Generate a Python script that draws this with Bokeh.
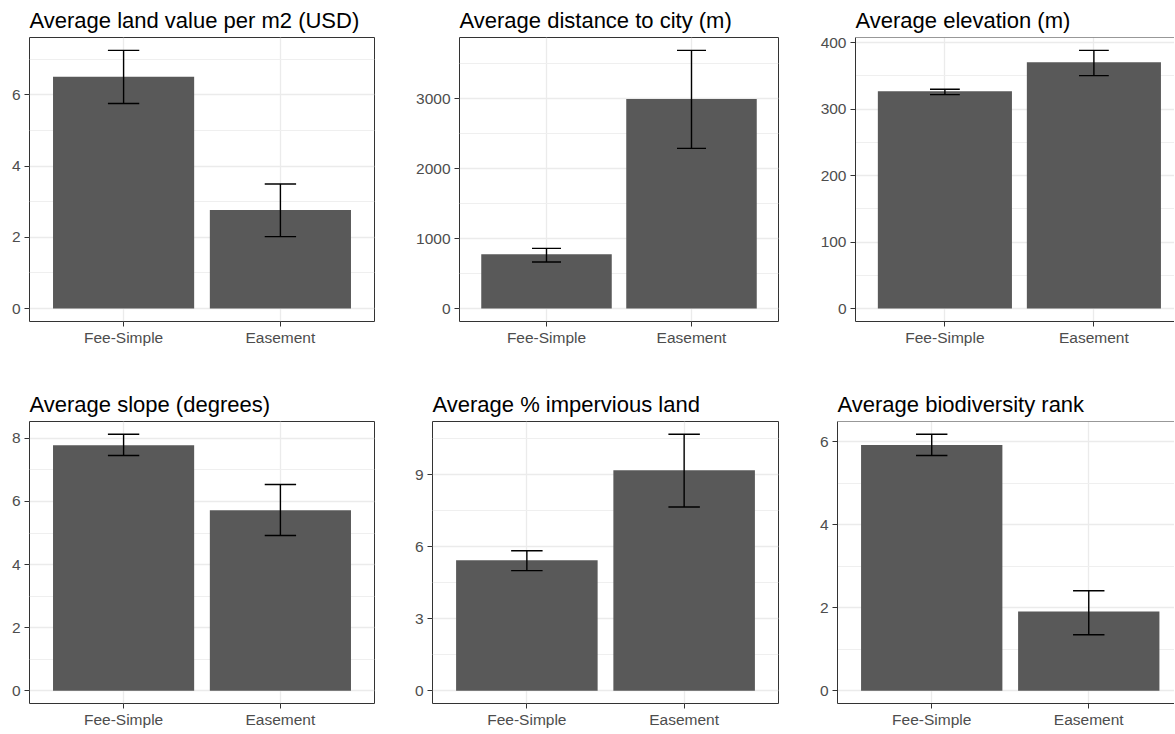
from bokeh.plotting import figure
from bokeh.layouts import column, row
from bokeh.models import Range1d, FixedTicker, ColumnDataSource, Span
from bokeh.transform import dodge
from bokeh.embed import file_html
from bokeh.resources import INLINE

categories = ["Fee-Simple", "Easement"]

# Panel 1: land value
land_title = "Average land value per m2 (USD)"
land_mean = [6.51, 2.77]
land_lo = [5.76, 2.02]
land_hi = [7.25, 3.50]
land_ticks = [0, 2, 4, 6]
land_minor = [1, 3, 5, 7]

# Panel 2: distance to city
dist_title = "Average distance to city (m)"
dist_mean = [775, 2995]
dist_lo = [665, 2290]
dist_hi = [860, 3690]
dist_ticks = [0, 1000, 2000, 3000]
dist_minor = [500, 1500, 2500, 3500]

# Panel 3: elevation
elev_title = "Average elevation (m)"
elev_mean = [327, 370.5]
elev_lo = [322, 350.5]
elev_hi = [330, 388.5]
elev_ticks = [0, 100, 200, 300, 400]
elev_minor = [50, 150, 250, 350]

# Panel 4: slope
slope_title = "Average slope (degrees)"
slope_mean = [7.78, 5.72]
slope_lo = [7.46, 4.92]
slope_hi = [8.13, 6.54]
slope_ticks = [0, 2, 4, 6, 8]
slope_minor = [1, 3, 5, 7]

# Panel 5: impervious
imp_title = "Average % impervious land"
imp_mean = [5.43, 9.18]
imp_lo = [5.00, 7.65]
imp_hi = [5.83, 10.68]
imp_ticks = [0, 3, 6, 9]
imp_minor = [1.5, 4.5, 7.5, 10.5]

# Panel 6: biodiversity
bio_title = "Average biodiversity rank"
bio_mean = [5.92, 1.91]
bio_lo = [5.67, 1.35]
bio_hi = [6.18, 2.41]
bio_ticks = [0, 2, 4, 6]
bio_minor = [1, 3, 5]

FONT = "Liberation Sans"
BORDER = "#333333"


def panel(title, mean, lo, hi, ticks, minor, width, height, bl, br, bt, bb,
          x_end=2.6, open_right=False):
    xs = [i + 1 for i in range(len(categories))]
    ymax = max(hi)
    y_end = 1.05 * ymax
    p = figure(width=width, height=height, output_backend="svg", toolbar_location=None,
               x_range=Range1d(0.4, x_end), y_range=Range1d(-0.05 * ymax, y_end),
               title=title, min_border_left=bl, min_border_right=br,
               min_border_top=bt, min_border_bottom=bb)
    src = ColumnDataSource(dict(x=xs, mean=mean, lo=lo, hi=hi))
    p.vbar(x="x", top="mean", bottom=0, width=0.9, fill_color="#595959",
           line_color=None, source=src)
    p.segment(x0="x", x1="x", y0="lo", y1="hi", line_color="black", line_width=1.4, source=src)
    p.segment(x0=dodge("x", -0.1), x1=dodge("x", 0.1), y0="hi", y1="hi",
              line_color="black", line_width=1.4, source=src)
    p.segment(x0=dodge("x", -0.1), x1=dodge("x", 0.1), y0="lo", y1="lo",
              line_color="black", line_width=1.4, source=src)

    p.xaxis.ticker = FixedTicker(ticks=xs)
    p.xaxis.major_label_overrides = {x: c for x, c in zip(xs, categories)}
    p.yaxis.ticker = FixedTicker(ticks=ticks, minor_ticks=minor)
    p.xgrid.ticker = FixedTicker(ticks=xs)
    p.ygrid.ticker = FixedTicker(ticks=ticks, minor_ticks=minor)

    for ax in (p.xaxis, p.yaxis):
        ax.axis_line_color = BORDER if open_right else None
        ax.axis_line_width = 1
        ax.major_tick_line_color = BORDER
        ax.major_tick_line_width = 1
        ax.major_tick_out = 5
        ax.major_tick_in = 0
        ax.minor_tick_line_color = None
        ax.major_label_text_font = FONT
        ax.major_label_text_font_size = "15.5px"
        ax.major_label_text_color = "#4D4D4D"
    p.xaxis.major_label_standoff = 2
    p.yaxis.major_label_standoff = 4

    p.xgrid.grid_line_color = "#EBEBEB"
    p.xgrid.grid_line_width = 1.3
    p.ygrid.grid_line_color = "#EBEBEB"
    p.ygrid.grid_line_width = 1.3
    p.ygrid.minor_grid_line_color = "#EFEFEF"
    p.ygrid.minor_grid_line_width = 1

    if open_right:
        p.outline_line_color = None
        p.add_layout(Span(location=y_end, dimension="width", line_color=BORDER, line_width=1))
    else:
        p.outline_line_color = BORDER
        p.outline_line_width = 1
    p.background_fill_color = "white"
    p.border_fill_color = "white"

    p.title.text_font = FONT
    p.title.text_font_size = "22px"
    p.title.text_font_style = "normal"
    p.title.text_color = "black"
    p.title.align = "left"
    p.title.offset = 0
    p.title.standoff = 9
    return p


H1, H2 = 385, 348
p1 = panel(land_title, land_mean, land_lo, land_hi, land_ticks, land_minor, 400, H1, 29, 26, 37, 64)
p2 = panel(dist_title, dist_mean, dist_lo, dist_hi, dist_ticks, dist_minor, 400, H1, 59, 22, 37, 64)
p3 = panel(elev_title, elev_mean, elev_lo, elev_hi, elev_ticks, elev_minor, 374, H1, 55, 0, 37, 64,
           x_end=2.541, open_right=True)
p4 = panel(slope_title, slope_mean, slope_lo, slope_hi, slope_ticks, slope_minor, 400, H2, 29, 26, 34, 30)
p5 = panel(imp_title, imp_mean, imp_lo, imp_hi, imp_ticks, imp_minor, 400, H2, 32, 22, 34, 30)
p6 = panel(bio_title, bio_mean, bio_lo, bio_hi, bio_ticks, bio_minor, 374, H2, 37, 0, 34, 30,
           x_end=2.546, open_right=True)

layout = column(row(p1, p2, p3, spacing=0), row(p4, p5, p6, spacing=0), spacing=0)

open("out.html", "w").write(file_html(layout, INLINE))
